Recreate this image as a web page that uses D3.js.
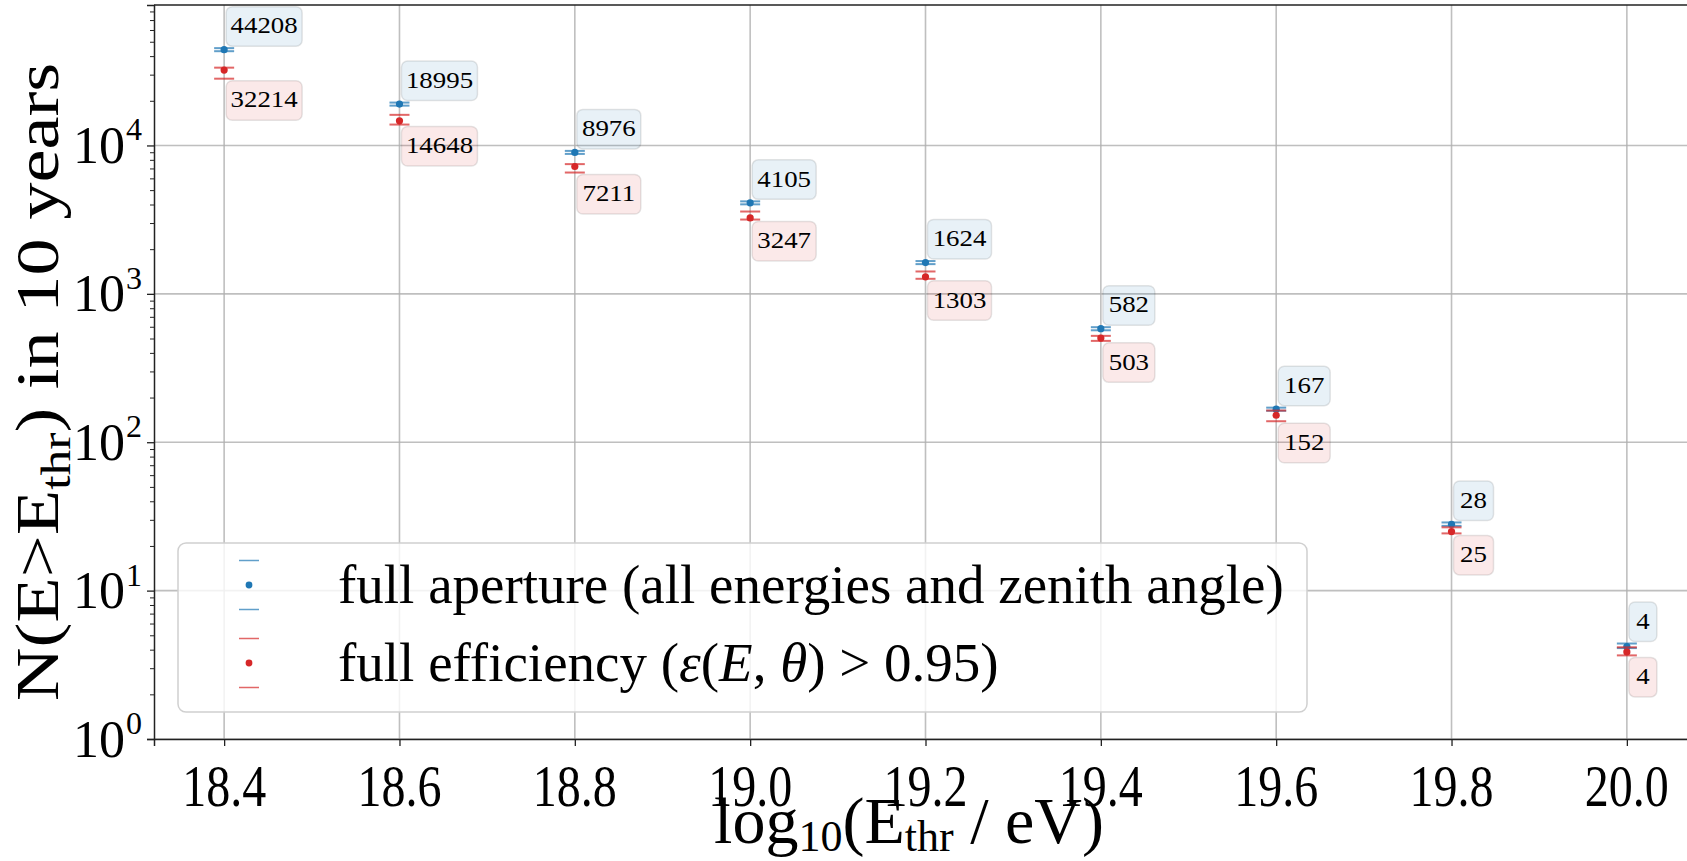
<!DOCTYPE html>
<html>
<head>
<meta charset="utf-8">
<script src="https://cdn.jsdelivr.net/npm/d3@7"></script>
<style>
  html, body { margin: 0; padding: 0; background: #fff; }
  svg { display: block; }
  text { font-family: "Liberation Serif", "DejaVu Serif", serif; fill: #000; }
</style>
</head>
<body>
<svg id="chart" width="1687" height="861"></svg>
<script>
// threshold energies (log10 E / eV)
const logEthr = [18.4, 18.6, 18.8, 19.0, 19.2, 19.4, 19.6, 19.8, 20.0];
const xTicks = [18.4, 18.6, 18.8, 19.0, 19.2, 19.4, 19.6, 19.8, 20.0];
const yTicks = [1, 10, 100, 1000, 10000];

// full aperture (blue) counts and their caps
const nAperture   = [44208, 18995, 8976, 4105, 1624, 582, 167, 28, 4.2];
const apertureHi  = [45270, 19450, 9190, 4200, 1663, 596, 171, 28.8, 4.4];
const apertureLo  = [43170, 18550, 8770, 4010, 1586, 568, 163, 27.3, 4.1];

// full efficiency (red) counts and their caps
const nEfficiency  = [32214, 14648, 7211, 3247, 1303, 503, 152, 25, 3.86];
const efficiencyHi = [33440, 16080, 7485, 3587, 1415, 521, 163.5, 26.7, 4.15];
const efficiencyLo = [28180, 13830, 6569, 3167, 1263, 482, 138.5, 24.3, 3.66];

const blue = "#1f77b4";
const red = "#d62728";

const svg = d3.select("#chart");
const plot = { left: 154, right: 1697, top: 5, bottom: 739 };

const x = d3.scaleLinear().domain([18.32, 20.08]).range([plot.left, plot.right]);
const y = d3.scaleLog().domain([1, 2 * d3.max(nAperture)]).range([plot.bottom, plot.top]);

// grid
const grid = svg.append("g").attr("class", "grid");
grid.selectAll(".gx").data(xTicks).enter().append("line")
  .attr("x1", d => x(d)).attr("x2", d => x(d))
  .attr("y1", plot.top).attr("y2", plot.bottom)
  .attr("stroke", "#b0b0b0").attr("stroke-width", 1.6).attr("opacity", 0.8);
grid.selectAll(".gy").data(yTicks).enter().append("line")
  .attr("x1", plot.left).attr("x2", plot.right)
  .attr("y1", d => y(d)).attr("y2", d => y(d))
  .attr("stroke", "#b0b0b0").attr("stroke-width", 1.6).attr("opacity", 0.8);

// axes
const xAxis = svg.append("g")
  .attr("transform", `translate(0,${plot.bottom})`)
  .call(d3.axisBottom(x).tickValues(xTicks).tickSize(7).tickFormat(""));
xAxis.select(".domain").attr("stroke", "#222").attr("stroke-width", 1.5);
xAxis.selectAll(".tick line").attr("stroke", "#222").attr("stroke-width", 1.3);

const minorTicks = [];
for (let p = 0; p < 5; p++) for (let k = 2; k < 10; k++) {
  const v = k * Math.pow(10, p);
  if (v < y.domain()[1]) minorTicks.push(v);
}
const yAxis = svg.append("g")
  .attr("transform", `translate(${plot.left},0)`)
  .call(d3.axisLeft(y).tickValues(yTicks).tickSize(7).tickFormat(""));
yAxis.select(".domain").attr("stroke", "#222").attr("stroke-width", 1.5);
yAxis.selectAll(".tick line").attr("stroke", "#222").attr("stroke-width", 1.3);
svg.append("g")
  .attr("transform", `translate(${plot.left},0)`)
  .call(d3.axisLeft(y).tickValues(minorTicks).tickSize(4).tickFormat(""))
  .call(g => g.select(".domain").remove())
  .selectAll(".tick line").attr("stroke", "#222").attr("stroke-width", 1);

// top spine
svg.append("line")
  .attr("x1", plot.left).attr("x2", plot.right)
  .attr("y1", plot.top).attr("y2", plot.top)
  .attr("stroke", "#222").attr("stroke-width", 1.5);

// x tick labels (narrow serif)
svg.append("g").selectAll("text").data(xTicks).enter().append("text")
  .attr("transform", d => `translate(${x(d)},806) scale(0.8,1)`)
  .attr("text-anchor", "middle")
  .attr("font-size", 60)
  .text(d => d.toFixed(1));

// y tick labels 10^n
const yLab = svg.append("g").selectAll("g").data(yTicks).enter().append("g")
  .attr("transform", d => `translate(125,${y(d)})`);
yLab.append("text")
  .attr("y", 17.5)
  .attr("text-anchor", "end")
  .attr("font-size", 52)
  .text("10");
yLab.append("text")
  .attr("x", 1).attr("y", -5)
  .attr("font-size", 32)
  .text(d => Math.round(Math.log10(d)));

// axis titles
const xTitle = svg.append("text")
  .attr("x", 909).attr("y", 843)
  .attr("text-anchor", "middle")
  .attr("font-size", 66);
xTitle.append("tspan").text("log");
xTitle.append("tspan").attr("font-size", 44).attr("dy", 8).text("10");
xTitle.append("tspan").attr("dy", -8).text("(E");
xTitle.append("tspan").attr("font-size", 44).attr("dy", 8).text("thr");
xTitle.append("tspan").attr("dy", -8).text(" / eV)");

const yTitle = svg.append("text")
  .attr("transform", "translate(58,382) rotate(-90) scale(1.2,1)")
  .attr("text-anchor", "middle")
  .attr("font-size", 62);
yTitle.append("tspan").text("N(E>E");
yTitle.append("tspan").attr("font-size", 43).attr("dy", 12).text("thr");
yTitle.append("tspan").attr("dy", -12).text(") in 10 years");

// error caps + markers for one series
function drawSeries(vals, hi, lo, color) {
  const g = svg.append("g");
  const capW = 10;
  g.selectAll(".capHi").data(logEthr).enter().append("line")
    .attr("x1", (d) => x(d) - capW).attr("x2", (d) => x(d) + capW)
    .attr("y1", (d, i) => y(hi[i])).attr("y2", (d, i) => y(hi[i]))
    .attr("stroke", color).attr("stroke-width", 2).attr("opacity", 0.7);
  g.selectAll(".capLo").data(logEthr).enter().append("line")
    .attr("x1", (d) => x(d) - capW).attr("x2", (d) => x(d) + capW)
    .attr("y1", (d, i) => y(lo[i])).attr("y2", (d, i) => y(lo[i]))
    .attr("stroke", color).attr("stroke-width", 2).attr("opacity", 0.7);
  g.selectAll("circle").data(logEthr).enter().append("circle")
    .attr("cx", d => x(d)).attr("cy", (d, i) => y(vals[i]))
    .attr("r", 3.6).attr("fill", color);
}
drawSeries(nAperture, apertureHi, apertureLo, blue);
drawSeries(nEfficiency, efficiencyHi, efficiencyLo, red);

// value boxes: blue above upper cap, red below lower cap
function drawBoxes(vals, capVals, color, above) {
  const boxH = 39.5;
  const g = svg.append("g");
  logEthr.forEach((e, i) => {
    const label = String(Math.round(vals[i]));
    const w = label.length * 12 + 16;
    const x0 = x(e) + 2;
    const y0 = above ? y(capVals[i]) - 2 - boxH : y(capVals[i]) + 2;
    g.append("rect")
      .attr("x", x0).attr("y", y0).attr("width", w).attr("height", boxH)
      .attr("rx", 6)
      .attr("fill", color).attr("fill-opacity", 0.1)
      .attr("stroke", "#000").attr("stroke-opacity", 0.1).attr("stroke-width", 1.5);
    g.append("text")
      .attr("transform", `translate(${x0 + w / 2},${y0 + boxH / 2 + 7}) scale(1.12,1)`)
      .attr("text-anchor", "middle")
      .attr("font-size", 24)
      .text(label);
  });
}
drawBoxes(nAperture, apertureHi, blue, true);
drawBoxes(nEfficiency, efficiencyLo, red, false);

// legend
const legend = svg.append("g");
legend.append("rect")
  .attr("x", 178).attr("y", 543).attr("width", 1129).attr("height", 169)
  .attr("rx", 8)
  .attr("fill", "#fff").attr("fill-opacity", 0.8)
  .attr("stroke", "#d0d0d0").attr("stroke-width", 1.5);

const legendItems = [
  { color: blue, cy: 585 },
  { color: red, cy: 663 }
];
legendItems.forEach(it => {
  [-24.5, 24.5].forEach(off => legend.append("line")
    .attr("x1", 239).attr("x2", 259)
    .attr("y1", it.cy + off).attr("y2", it.cy + off)
    .attr("stroke", it.color).attr("stroke-width", 1.5).attr("opacity", 0.7));
  legend.append("circle").attr("cx", 249).attr("cy", it.cy).attr("r", 3.4).attr("fill", it.color);
});
legend.append("text")
  .attr("x", 338).attr("y", 603).attr("font-size", 55)
  .text("full aperture (all energies and zenith angle)");
const l2 = legend.append("text")
  .attr("x", 338).attr("y", 681).attr("font-size", 55);
l2.append("tspan").text("full efficiency (");
l2.append("tspan").attr("font-style", "italic").text("\u03B5");
l2.append("tspan").text("(");
l2.append("tspan").attr("font-style", "italic").text("E");
l2.append("tspan").text(", ");
l2.append("tspan").attr("font-style", "italic").text("\u03B8");
l2.append("tspan").text(") > 0.95)");
</script>
</body>
</html>
